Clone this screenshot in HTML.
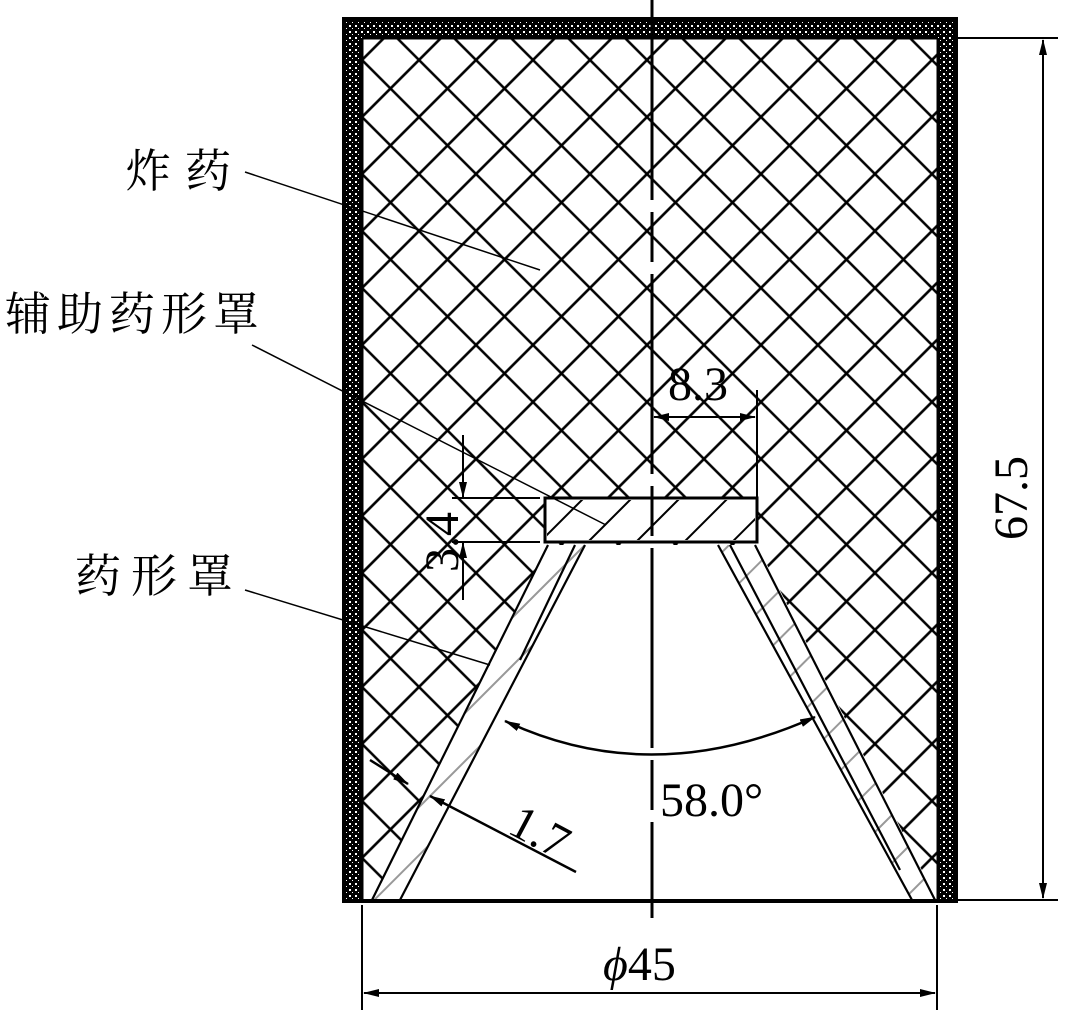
<!DOCTYPE html>
<html><head><meta charset="utf-8"><style>
html,body{margin:0;padding:0;background:#fff;}
svg{display:block;}
text{font-family:"Liberation Serif","Noto Serif CJK SC",serif;fill:#000;}
.cjk{font-family:"Liberation Serif","Noto Serif CJK SC","Noto Sans CJK SC",serif;}
</style></head><body>
<svg width="1068" height="1021" viewBox="0 0 1068 1021" xmlns="http://www.w3.org/2000/svg">
<defs>
<pattern id="hatch" patternUnits="userSpaceOnUse" width="40.3" height="40.3" patternTransform="translate(362,60) rotate(45)">
<line x1="0" y1="0" x2="0" y2="40.3" stroke="#000" stroke-width="2.6"/>
<line x1="40.3" y1="0" x2="40.3" y2="40.3" stroke="#000" stroke-width="2.6"/>
<line x1="0" y1="0" x2="40.3" y2="0" stroke="#000" stroke-width="2.6"/>
<line x1="0" y1="40.3" x2="40.3" y2="40.3" stroke="#000" stroke-width="2.6"/>
</pattern>
<pattern id="dots" patternUnits="userSpaceOnUse" width="6" height="6">
<rect width="6" height="6" fill="#000"/>
<rect x="1" y="1" width="2" height="2" fill="#fff"/>
<rect x="4" y="4" width="1" height="1" fill="#fff"/>
</pattern>
<pattern id="diag" patternUnits="userSpaceOnUse" width="34" height="34" patternTransform="rotate(-45)">
<line x1="0" y1="17" x2="34" y2="17" stroke="#000" stroke-width="2"/>
</pattern>
<marker id="ar" markerWidth="16" markerHeight="8" refX="15" refY="4" orient="auto" markerUnits="userSpaceOnUse">
<path d="M0,0 L16,4 L0,8 z" fill="#000"/>
</marker>
<marker id="al" markerWidth="16" markerHeight="8" refX="1" refY="4" orient="auto" markerUnits="userSpaceOnUse">
<path d="M16,0 L0,4 L16,8 z" fill="#000"/>
</marker>
</defs>

<!-- casing -->
<rect x="344" y="19" width="612" height="882" fill="url(#dots)" stroke="#000" stroke-width="4"/>
<rect x="362" y="38" width="576" height="862" fill="#fff"/>
<rect x="362" y="38" width="576" height="862" fill="url(#hatch)"/>
<line x1="362" y1="38" x2="938" y2="38" stroke="#000" stroke-width="3"/>
<line x1="362" y1="38" x2="362" y2="900" stroke="#000" stroke-width="3"/>
<line x1="938" y1="38" x2="938" y2="900" stroke="#000" stroke-width="3"/>

<!-- liner band and cone interior -->
<polygon points="548,545 757,545 937,900 372,900" fill="#fff"/>
<polygon points="548,545 585,545 400,900 372,900" fill="url(#diag)" opacity="0.4"/>
<polygon points="718,545 755,545 935,900 912,900" fill="url(#diag)" opacity="0.4"/>
<g stroke="#000" stroke-width="2.2" fill="none">
<line x1="548" y1="545" x2="372" y2="900"/>
<line x1="585" y1="545" x2="400" y2="900"/>
<line x1="718" y1="545" x2="912" y2="900"/>
<line x1="755" y1="545" x2="935" y2="900"/>
<line x1="575" y1="545" x2="520" y2="660"/>
<line x1="730" y1="545" x2="900" y2="870"/>
</g>

<!-- aux liner -->
<rect x="545" y="498" width="212" height="44" fill="#fff" stroke="#000" stroke-width="3"/>
<rect x="547" y="500" width="208" height="40" fill="url(#diag)"/>

<!-- base line -->
<line x1="343" y1="901" x2="957" y2="901" stroke="#000" stroke-width="4"/>

<!-- center line -->
<line x1="652" y1="0" x2="652" y2="918" stroke="#000" stroke-width="3" stroke-dasharray="200,12,50,12"/>

<!-- 8.3 dim -->
<g stroke="#000" stroke-width="2">
<line x1="757" y1="390" x2="757" y2="498"/>
<line x1="654" y1="417" x2="755" y2="417" marker-start="url(#al)" marker-end="url(#ar)"/>
</g>
<text x="668" y="400" font-size="48">8.3</text>

<!-- 3.4 dim -->
<g stroke="#000" stroke-width="2">
<line x1="452" y1="498" x2="540" y2="498"/>
<line x1="452" y1="542" x2="540" y2="542"/>
<line x1="463" y1="435" x2="463" y2="497" marker-end="url(#ar)"/>
<line x1="463" y1="600" x2="463" y2="543" marker-end="url(#ar)"/>
</g>
<text transform="translate(458,572) rotate(-90)" font-size="48">3.4</text>

<!-- angle -->
<path d="M505,721 Q652,790 815,717" fill="none" stroke="#000" stroke-width="2.5" marker-start="url(#al)" marker-end="url(#ar)"/>
<text x="660" y="816" font-size="48">58.0°</text>

<!-- 1.7 -->
<g stroke="#000" stroke-width="2.5">
<line x1="370" y1="760" x2="408" y2="784" marker-end="url(#ar)"/>
<line x1="576" y1="872" x2="430" y2="796" marker-end="url(#ar)"/>
</g>
<text transform="translate(506,832) rotate(28)" font-size="48">1.7</text>

<!-- 67.5 -->
<g stroke="#000" stroke-width="2">
<line x1="957" y1="38" x2="1058" y2="38"/>
<line x1="957" y1="900" x2="1058" y2="900"/>
<line x1="1043" y1="40" x2="1043" y2="898" marker-start="url(#al)" marker-end="url(#ar)"/>
</g>
<text transform="translate(1027,540) rotate(-90)" font-size="48">67.5</text>

<!-- phi45 -->
<g stroke="#000" stroke-width="2">
<line x1="362" y1="905" x2="362" y2="1010"/>
<line x1="937" y1="905" x2="937" y2="1010"/>
<line x1="364" y1="993" x2="935" y2="993" marker-start="url(#al)" marker-end="url(#ar)"/>
</g>
<text x="603" y="980" font-size="48"><tspan font-style="italic">ϕ</tspan>45</text>

<!-- labels -->
<g stroke="#000" stroke-width="1.5">
<line x1="245" y1="172" x2="540" y2="270"/>
<line x1="252" y1="345" x2="606" y2="525"/>
<line x1="245" y1="590" x2="490" y2="665"/>
</g>
<text class="cjk" x="125" y="187" font-size="46" letter-spacing="14">炸药</text>
<text class="cjk" x="5" y="330" font-size="46" letter-spacing="6">辅助药形罩</text>
<text class="cjk" x="75" y="592" font-size="46" letter-spacing="10">药形罩</text>
</svg>
</body></html>
